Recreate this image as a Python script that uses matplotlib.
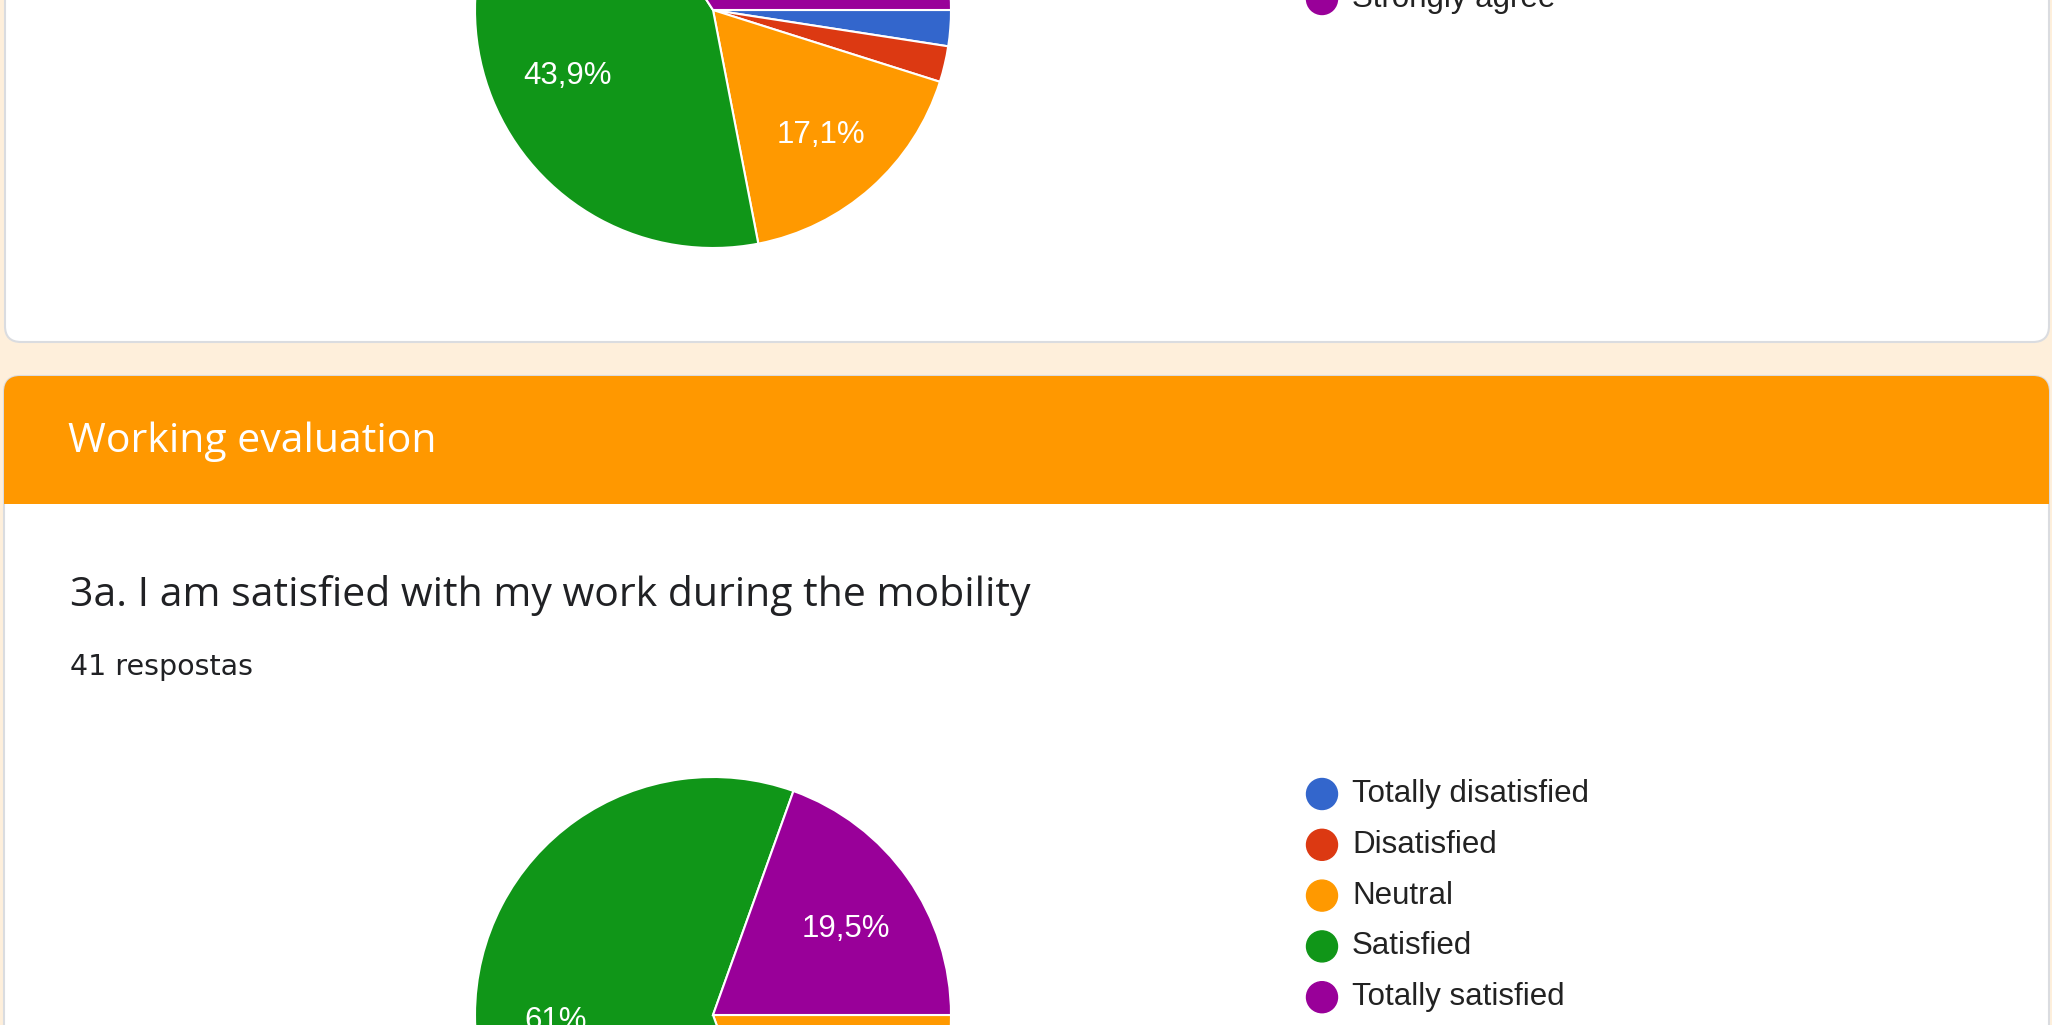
import matplotlib.pyplot as plt
from matplotlib.patches import FancyBboxPatch, Rectangle, Circle

W, H = 2052, 1025

# google charts palette
colors = ['#3366cc', '#dc3912', '#ff9900', '#109618', '#990099']

q2_labels = ['Strongly disagree', 'Disagree', 'Neutral', 'Agree', 'Strongly agree']
q2_counts = [1, 1, 7, 18, 14]

section = 'Working evaluation'
q3_title = '3a. I am satisfied with my work during the mobility'
q3_answers = '41 respostas'
q3_labels = ['Totally disatisfied', 'Disatisfied', 'Neutral', 'Satisfied', 'Totally satisfied']
q3_counts = [0, 0, 8, 25, 8]

bg = '#feefdb'
header = '#ff9800'
border = '#dadce0'
ink = '#202124'


def pct(p):
    # small slices get no label, like in forms
    if p < 5:
        return ''
    s = '%.1f' % p
    if s.endswith('.0'):
        s = s[:-2]
    return s.replace('.', ',') + '%'


def draw_pie(ax, counts, labels, center, legend_y):
    wedges, texts, autotexts = ax.pie(
        counts, colors=colors, center=center, radius=238,
        startangle=0, counterclock=True,
        autopct=pct, pctdistance=0.67,
        wedgeprops=dict(edgecolor='white', linewidth=1.5),
        textprops=dict(color='white', fontsize=22.5, family='Liberation Sans'))
    for t in autotexts:
        x, y = t.get_position()
        t.set_position((x + 2, y + 6))
    for i, lab in enumerate(labels):
        y = legend_y + i * 50.8
        ax.add_patch(Circle((1322, y), 15.5, color=colors[i], zorder=3))
        ax.text(1352, y, lab, fontsize=22.5, color='#222222', va='center',
                family='Liberation Sans')


fig = plt.figure(figsize=(W / 100, H / 100), dpi=100)
fig.patch.set_facecolor(bg)
ax = fig.add_axes([0, 0, 1, 1])

# cards
ax.add_patch(FancyBboxPatch((5, -120), 2044, 462, boxstyle='round,pad=0,rounding_size=16',
                            fc='white', ec=border, lw=1.5, zorder=0.5))
ax.add_patch(FancyBboxPatch((4, 376), 2045, 800, boxstyle='round,pad=0,rounding_size=16',
                            fc='white', ec=border, lw=1.5, zorder=0.5))
ax.add_patch(FancyBboxPatch((4, 376), 2045, 128, boxstyle='round,pad=0,rounding_size=16',
                            fc=header, ec='none', zorder=0.6))
ax.add_patch(Rectangle((4, 440), 2045, 64, fc=header, ec='none', zorder=0.6))

ax.text(68, 442, section, color='white', fontsize=29.5, va='center', family='Open Sans')
ax.text(70, 595, q3_title, color=ink, fontsize=29.5, va='center', family='Open Sans')
ax.text(70, 667, q3_answers, color=ink, fontsize=20.5, va='center', family='DejaVu Sans')

draw_pie(ax, q2_counts, q2_labels, (713, 10), -1 - 4 * 50.8)
draw_pie(ax, q3_counts, q3_labels, (713, 1015), 794)

ax.set_xlim(0, W)
ax.set_ylim(H, 0)
ax.set_aspect('equal')
ax.axis('off')

fig.savefig('out.png', dpi=100, facecolor=bg)
